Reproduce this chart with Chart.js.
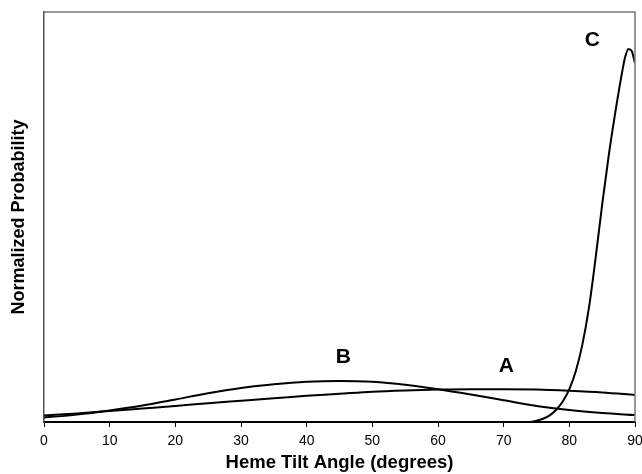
<!DOCTYPE html>
<html><head><meta charset="utf-8">
<script src="https://cdn.jsdelivr.net/npm/chart.js@4/dist/chart.umd.min.js"></script>
<style>html,body{margin:0;padding:0;background:#fff}#wrap{width:642px;height:474px;position:relative}</style>
</head><body><div id="wrap"><canvas id="c" width="642" height="474"></canvas></div>
<script>
// Data
const angles = [0,5,10,15,20,25,30,35,40,45,50,55,60,65,70,75,80,85,90];
const seriesA = [0.016,0.021,0.027,0.033,0.039,0.046,0.052,0.058,0.064,0.069,0.074,0.077,0.079,0.080,0.080,0.079,0.076,0.072,0.066];
const seriesB = [0.011,0.018,0.028,0.040,0.055,0.070,0.083,0.092,0.098,0.100,0.098,0.091,0.080,0.067,0.053,0.039,0.029,0.022,0.017];
const anglesC = [0,10,20,30,40,50,60,70,74,75,76,77,78,79,80,81,82,83,84,85,86,87,88,88.5,89,89.5,90];
const seriesC = [0,0,0,0,0,0,0,0,0,0.003,0.008,0.016,0.03,0.05,0.08,0.125,0.19,0.28,0.40,0.53,0.65,0.755,0.85,0.89,0.91,0.905,0.875];
const curveLabels = [{text:'A',x:70.4,y:0.137},{text:'B',x:45.6,y:0.159},{text:'C',x:83.5,y:0.93}];
const xTicks = [0,10,20,30,40,50,60,70,80,90];

const toPts = (xs, ys) => xs.map((x,i)=>({x:x,y:ys[i]}));
const FONT = "'Liberation Sans', Arial, sans-serif";

const labelPlugin = {
  id:'curveLabels',
  afterDatasetsDraw(chart){
    const ctx = chart.ctx, xs = chart.scales.x, ys = chart.scales.y, a = chart.chartArea;
    ctx.save();
    ctx.strokeStyle = '#777'; ctx.lineWidth = 1.5;
    ctx.beginPath();
    ctx.moveTo(a.left, a.top); ctx.lineTo(a.right, a.top); ctx.lineTo(a.right, a.bottom);
    ctx.stroke();
    ctx.fillStyle = '#000';
    ctx.font = 'bold 21px ' + FONT;
    ctx.textAlign = 'center'; ctx.textBaseline = 'middle';
    curveLabels.forEach(l => ctx.fillText(l.text, xs.getPixelForValue(l.x), ys.getPixelForValue(l.y)));
    ctx.restore();
  }
};

const ds = (data) => ({data, borderColor:'#000', borderWidth:2, pointRadius:0, fill:false, cubicInterpolationMode:'monotone', tension:0.4});

new Chart(document.getElementById('c'), {
  type:'line',
  data:{datasets:[ds(toPts(angles,seriesA)), ds(toPts(angles,seriesB)), ds(toPts(anglesC,seriesC))]},
  options:{
    responsive:false, animation:false, devicePixelRatio:1,
    layout:{padding:{top:12,right:7,left:0,bottom:0}},
    plugins:{legend:{display:false}, tooltip:{enabled:false}},
    scales:{
      x:{type:'linear', min:0, max:90,
        afterBuildTicks(s){ s.ticks = xTicks.map(v=>({value:v})); },
        afterFit(s){ s.height = 52; s.paddingRight = 0; s.paddingLeft = 0; },
        grid:{display:true, drawOnChartArea:false, drawTicks:true, tickLength:5, color:'#000', lineWidth:1},
        border:{display:true, color:'#000', width:2},
        ticks:{color:'#000', font:{family:FONT, size:14}, padding:6, maxRotation:0, autoSkip:false},
        title:{display:true, text:'Heme Tilt Angle (degrees)', color:'#000', font:{family:FONT, size:18.5, weight:'bold'}, padding:{top:0,bottom:0}}
      },
      y:{type:'linear', min:0, max:1,
        afterFit(s){ s.width = 44; s.paddingTop = 0; s.paddingBottom = 0; },
        grid:{display:false},
        border:{display:true, color:'#555', width:1.5},
        ticks:{display:false},
        title:{display:true, text:'Normalized Probability', color:'#000', font:{family:FONT, size:18, weight:'bold'}, padding:{top:8,bottom:0}}
      }
    }
  },
  plugins:[labelPlugin]
});
</script></body></html>
